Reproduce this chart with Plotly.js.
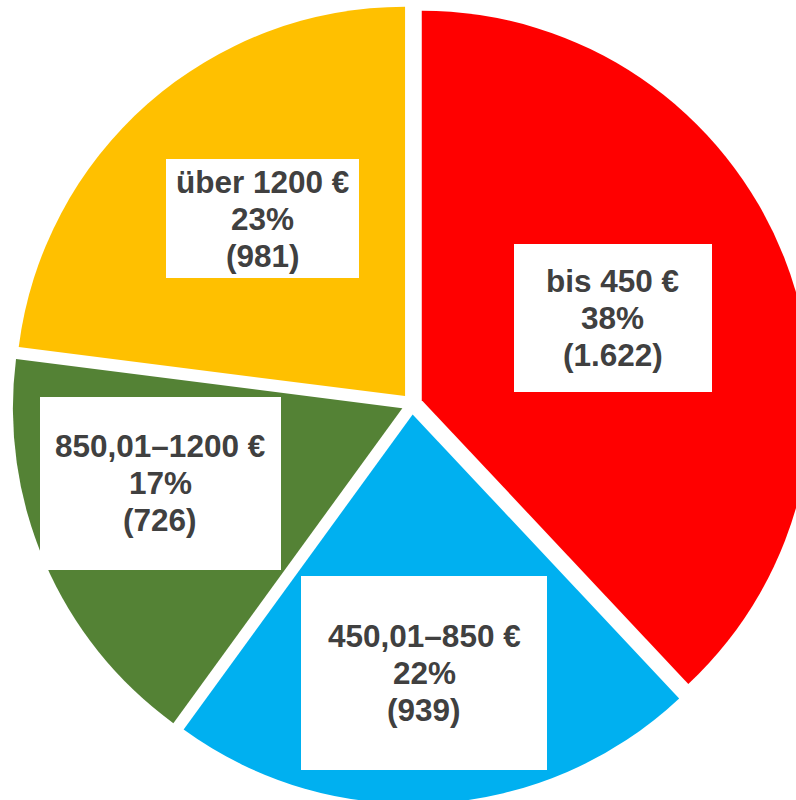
<!DOCTYPE html>
<html>
<head>
<meta charset="utf-8">
<script src="https://cdn.plot.ly/plotly-3.0.1.min.js"></script>
<style>
html,body{margin:0;padding:0;overflow:hidden;background:#fff;}
#chart{width:824px;height:808px;}
</style>
</head>
<body>
<div id="chart"></div>
<script>
// Data
const categories = ["bis 450 €", "450,01–850 €", "850,01–1200 €", "über 1200 €"];
const counts = [1622, 939, 726, 981];
const colors = ["#FF0000", "#00B0F0", "#548235", "#FFC000"];

// Layout / styling constants
const W = 824, H = 808;
const domainY = [0.005, 0.995];
const pull = 0.027;
// per-label placement: [radius fraction, angle shift deg], box [width, height]
const labelPlace = [[0.534, -1.6], [0.664, 1.0], [0.651, 5.9], [0.584, 2.5]];
const boxSize = [[198, 148], [246, 194], [241, 173], [193, 119]];
const lineGap = 37;   // px between text lines
const fontSize = 31.5;

function fmtThousands(n) {
  return String(n).replace(/\B(?=(\d{3})+(?!\d))/g, ".");
}

const total = counts.reduce((a, b) => a + b, 0);
const cx = W / 2;
const cy = H * (1 - (domainY[0] + domainY[1]) / 2);
const half = Math.min(W, H * (domainY[1] - domainY[0])) / 2;
const R = half / (1 + pull);

const annotations = [];
let cum = 0;
counts.forEach((v, i) => {
  const theta = ((cum + v / 2) / total * 360 + labelPlace[i][1]) * Math.PI / 180;
  cum += v;
  const d = pull * R + labelPlace[i][0] * R;
  const px = cx + d * Math.sin(theta);
  const py = cy - d * Math.cos(theta);
  const pct = Math.round(v / total * 100);
  // white box
  annotations.push({
    xref: "paper", yref: "paper",
    x: px / W, y: 1 - py / H,
    xanchor: "center", yanchor: "middle",
    showarrow: false, text: " ",
    width: boxSize[i][0], height: boxSize[i][1],
    bgcolor: "#FFFFFF", borderpad: 0, borderwidth: 0,
    font: {size: 10}
  });
  const lines = [categories[i], pct + "%", "(" + fmtThousands(v) + ")"];
  lines.forEach((t, k) => {
    annotations.push({
      xref: "paper", yref: "paper",
      x: px / W, y: 1 - (py + (k - 1) * lineGap) / H,
      xanchor: "center", yanchor: "middle",
      showarrow: false,
      text: "<b>" + t + "</b>",
      borderpad: 0,
      font: {family: "Liberation Sans, Arial, sans-serif", size: fontSize, color: "#404040"}
    });
  });
});

const trace = {
  type: "pie",
  values: counts,
  labels: categories,
  marker: {colors: colors, line: {width: 0}},
  sort: false,
  direction: "clockwise",
  rotation: 0,
  pull: pull,
  textinfo: "none",
  hoverinfo: "none",
  showlegend: false,
  domain: {x: [0, 1], y: domainY}
};

Plotly.newPlot("chart", [trace], {
  width: W, height: H,
  margin: {l: 0, r: 0, t: 0, b: 0},
  paper_bgcolor: "#FFFFFF",
  plot_bgcolor: "#FFFFFF",
  showlegend: false,
  annotations: annotations
}, {displayModeBar: false, staticPlot: true});
</script>
</body>
</html>
